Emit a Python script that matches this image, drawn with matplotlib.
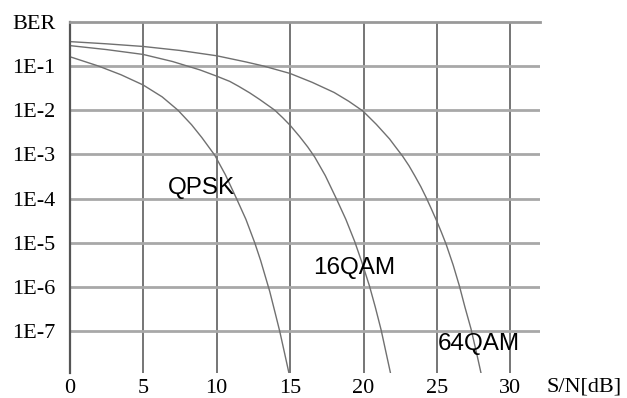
import numpy as np
import matplotlib
matplotlib.use('Agg')
import matplotlib.pyplot as plt

# S/N [dB] and log10(BER)
qpsk_snr = [0, 1.94, 3.5, 5, 6.3, 7.37, 8.3, 9.0, 9.88, 10.6, 11.36, 12.0, 12.6, 13.0, 13.62, 14.0,
            14.3, 14.6, 14.93]
qpsk_exp = [-0.79, -1.0, -1.2, -1.43, -1.7, -2.0, -2.33, -2.62, -3.02, -3.46, -4.0, -4.47, -5.0, -5.4, -6.1,
            -6.6, -7.0, -7.45, -7.95]

qam16_snr = [0, 2.5, 5, 7, 8.87, 10, 10.9, 11.5, 12.26, 12.94, 13.96, 14.5, 15.0, 15.66, 16.2, 16.68,
             17.4, 18.15, 18.8, 19.4, 19.9, 20.41, 20.8, 21.2, 21.5, 21.84]
qam16_exp = [-0.54, -0.63, -0.74, -0.9, -1.09, -1.23, -1.35, -1.46, -1.61, -1.76, -2.0, -2.17, -2.34, -2.6, -2.83, -3.06,
             -3.48, -4.0, -4.47, -4.97, -5.45, -5.98, -6.45, -6.97, -7.43, -7.95]

qam64_snr = [0, 2.5, 5, 7.5, 10, 12, 13.17, 15, 16.5, 18, 19, 19.96, 20.87, 21.77, 22.2, 22.66, 23.1,
             23.5, 23.9, 24.27, 24.6, 25.0, 25.3, 25.62, 26.1, 26.53, 26.9, 27.32, 27.7, 28.0]
qam64_exp = [-0.45, -0.5, -0.56, -0.65, -0.77, -0.91, -1.0, -1.17, -1.37, -1.6, -1.8, -2.02, -2.32, -2.65, -2.84, -3.04, -3.26,
             -3.49, -3.73, -3.98, -4.22, -4.52, -4.76, -5.03, -5.5, -5.98, -6.45, -6.95, -7.5, -7.95]

x_ticks = [0, 5, 10, 15, 20, 25, 30]
y_ticks = [1, 1e-1, 1e-2, 1e-3, 1e-4, 1e-5, 1e-6, 1e-7]
y_labels = ['BER', '1E-1', '1E-2', '1E-3', '1E-4', '1E-5', '1E-6', '1E-7']

fig = plt.figure(figsize=(6.27, 3.98), dpi=100)
ax = fig.add_axes([0.111, 0.062, 0.750, 0.8835])

for v in x_ticks[1:]:
    ax.axvline(v, color='#6a6a6a', lw=1.3, zorder=1)
for v in y_ticks[1:]:
    ax.axhline(v, color='#a8a8a8', lw=2.0, zorder=1)

ax.semilogy(qpsk_snr, 10 ** np.array(qpsk_exp), color='#707070', lw=1.0, zorder=2)
ax.semilogy(qam16_snr, 10 ** np.array(qam16_exp), color='#707070', lw=1.0, zorder=2)
ax.semilogy(qam64_snr, 10 ** np.array(qam64_exp), color='#707070', lw=1.0, zorder=2)

ax.set_xlim(0, 32)
ax.set_ylim(10 ** -7.95, 1)

for s in ['right', 'bottom']:
    ax.spines[s].set_visible(False)
ax.spines['left'].set_color('#555555')
ax.spines['left'].set_linewidth(1.6)
ax.spines['top'].set_color('#999999')
ax.spines['top'].set_linewidth(2.0)

ax.set_xticks(x_ticks)
ax.set_xticklabels([str(t) for t in x_ticks], family='Liberation Serif', fontsize=16)
ax.set_yticks(y_ticks)
ax.set_yticklabels(y_labels, family='Liberation Serif', fontsize=16)
ax.yaxis.set_minor_locator(matplotlib.ticker.NullLocator())
ax.tick_params(axis='both', length=0)
ax.tick_params(axis='y', pad=10)
ax.tick_params(axis='x', pad=4)

ax.text(1.015, -0.012, 'S/N[dB]', transform=ax.transAxes, ha='left', va='top',
        family='Liberation Serif', fontsize=16)

ax.text(6.7, 10 ** -3.89, 'QPSK', family='Liberation Sans', fontsize=17.5, ha='left', va='baseline')
ax.text(16.54, 10 ** -5.70, '16QAM', family='Liberation Sans', fontsize=17.5, ha='left', va='baseline')
ax.text(25.03, 10 ** -7.43, '64QAM', family='Liberation Sans', fontsize=17.5, ha='left', va='baseline')

fig.savefig('out.png', dpi=100)
